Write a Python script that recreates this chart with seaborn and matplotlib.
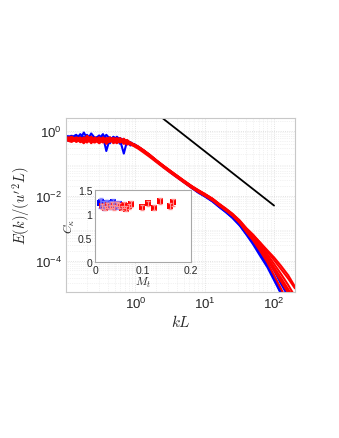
import numpy as np
import pandas as pd
import matplotlib
matplotlib.use("Agg")
import matplotlib.pyplot as plt
import seaborn as sns
from matplotlib.ticker import LogLocator, NullFormatter

# wavenumber grid (kL)
kL = [0.105, 0.12, 0.14, 0.16, 0.18, 0.2, 0.23, 0.26, 0.3, 0.34, 0.38, 0.43, 0.48, 0.54,
      0.6, 0.68, 0.76, 0.85, 0.95, 1.1, 1.3, 1.6, 2.0, 2.5, 3.2, 4, 5, 6.5, 8, 10, 13, 16,
      20, 25, 32, 40, 50, 63, 80, 100, 125, 160, 200]

# log10 of E(k)/(u'^2 L) for each run
blue_runs = [
    [-0.25, -0.22, -0.30, -0.18, -0.26, -0.12, -0.28, -0.20, -0.35, -0.15, -0.62, -0.22, -0.30, -0.18, -0.28, -0.70, -0.30, -0.38, -0.42, -0.52, -0.62, -0.77, -0.93, -1.09, -1.27, -1.42, -1.57, -1.75, -1.88, -2.00, -2.16, -2.31, -2.47, -2.64, -2.88, -3.15, -3.42, -3.75, -4.10, -4.50, -5.0, -5.6, -6],
    [-0.20, -0.15, -0.25, -0.10, -0.20, -0.30, -0.08, -0.22, -0.18, -0.28, -0.12, -0.25, -0.20, -0.33, -0.22, -0.30, -0.40, -0.35, -0.45, -0.50, -0.61, -0.76, -0.94, -1.10, -1.28, -1.43, -1.58, -1.76, -1.90, -2.02, -2.18, -2.34, -2.50, -2.68, -2.92, -3.20, -3.50, -3.85, -4.20, -4.60, -5.0, -5.4, -6],
    [-0.30, -0.28, -0.18, -0.32, -0.22, -0.16, -0.35, -0.25, -0.14, -0.30, -0.24, -0.38, -0.18, -0.26, -0.40, -0.28, -0.34, -0.45, -0.40, -0.49, -0.60, -0.75, -0.92, -1.08, -1.26, -1.41, -1.56, -1.74, -1.87, -1.99, -2.15, -2.30, -2.46, -2.62, -2.85, -3.10, -3.35, -3.65, -3.95, -4.30, -4.70, -5.1, -6],
    [-0.16, -0.20, -0.12, -0.26, -0.05, -0.22, -0.18, -0.30, -0.24, -0.10, -0.28, -0.20, -0.35, -0.24, -0.30, -0.26, -0.38, -0.36, -0.43, -0.51, -0.61, -0.76, -0.93, -1.09, -1.27, -1.42, -1.57, -1.74, -1.88, -2.01, -2.17, -2.33, -2.49, -2.66, -2.90, -3.18, -3.45, -3.80, -4.15, -4.55, -4.95, -5.3, -6],
]
red_runs = [
    [-0.28, -0.24, -0.30, -0.20, -0.33, -0.26, -0.18, -0.30, -0.22, -0.36, -0.25, -0.20, -0.32, -0.27, -0.22, -0.35, -0.33, -0.38, -0.44, -0.50, -0.60, -0.74, -0.91, -1.07, -1.24, -1.39, -1.54, -1.71, -1.83, -1.95, -2.10, -2.25, -2.40, -2.56, -2.78, -3.02, -3.24, -3.50, -3.80, -4.10, -4.40, -4.75, -5.1],
    [-0.26, -0.30, -0.22, -0.35, -0.25, -0.32, -0.28, -0.20, -0.34, -0.26, -0.40, -0.30, -0.24, -0.36, -0.30, -0.26, -0.38, -0.40, -0.45, -0.51, -0.61, -0.75, -0.92, -1.08, -1.25, -1.40, -1.55, -1.72, -1.84, -1.96, -2.11, -2.26, -2.42, -2.59, -2.82, -3.08, -3.32, -3.62, -3.95, -4.30, -4.62, -5.0, -5.4],
    [-0.22, -0.18, -0.26, -0.22, -0.30, -0.15, -0.28, -0.24, -0.30, -0.20, -0.28, -0.34, -0.22, -0.30, -0.36, -0.28, -0.32, -0.36, -0.42, -0.49, -0.59, -0.73, -0.90, -1.06, -1.23, -1.38, -1.53, -1.70, -1.82, -1.94, -2.09, -2.24, -2.39, -2.55, -2.76, -3.00, -3.20, -3.45, -3.72, -3.98, -4.25, -4.55, -4.85],
    [-0.30, -0.34, -0.26, -0.30, -0.38, -0.28, -0.33, -0.36, -0.26, -0.32, -0.30, -0.24, -0.38, -0.32, -0.28, -0.40, -0.36, -0.42, -0.46, -0.52, -0.62, -0.76, -0.93, -1.09, -1.26, -1.41, -1.56, -1.73, -1.85, -1.97, -2.12, -2.27, -2.43, -2.60, -2.84, -3.12, -3.38, -3.70, -4.05, -4.45, -4.85, -5.3, -5.8],
    [-0.27, -0.22, -0.34, -0.28, -0.20, -0.36, -0.24, -0.28, -0.38, -0.30, -0.22, -0.32, -0.28, -0.22, -0.34, -0.30, -0.28, -0.37, -0.41, -0.48, -0.59, -0.74, -0.91, -1.07, -1.24, -1.39, -1.54, -1.71, -1.83, -1.95, -2.10, -2.26, -2.41, -2.57, -2.80, -3.05, -3.28, -3.56, -3.88, -4.20, -4.52, -4.88, -5.2],
    [-0.24, -0.28, -0.20, -0.24, -0.32, -0.22, -0.38, -0.26, -0.20, -0.28, -0.34, -0.26, -0.30, -0.38, -0.26, -0.32, -0.42, -0.39, -0.43, -0.50, -0.60, -0.75, -0.92, -1.08, -1.25, -1.40, -1.55, -1.72, -1.84, -1.96, -2.11, -2.27, -2.42, -2.58, -2.81, -3.06, -3.30, -3.58, -3.92, -4.25, -4.58, -4.92, -5.3],
    [-0.20, -0.26, -0.32, -0.24, -0.28, -0.34, -0.22, -0.32, -0.28, -0.24, -0.36, -0.28, -0.22, -0.30, -0.34, -0.24, -0.36, -0.40, -0.47, -0.55, -0.66, -0.80, -0.96, -1.12, -1.29, -1.44, -1.59, -1.76, -1.88, -2.00, -2.15, -2.30, -2.45, -2.61, -2.83, -3.04, -3.22, -3.44, -3.68, -3.90, -4.15, -4.45, -4.8],
]

# -5/3 reference line
ref_k = [2.5, 100]
ref_E = [2.4, 0.005]

# inset: Kolmogorov constant vs turbulent Mach number
blue_Mt = [0.010, 0.013, 0.016, 0.019, 0.022, 0.025, 0.028, 0.031, 0.034, 0.037, 0.040, 0.043, 0.046, 0.050]
blue_C = [1.22, 1.25, 1.20, 1.18, 1.23, 1.21, 1.17, 1.22, 1.19, 1.24, 1.18, 1.21, 1.16, 1.20]
blue_err = [0.10, 0.08, 0.07, 0.09, 0.06, 0.08, 0.07, 0.06, 0.08, 0.07, 0.06, 0.07, 0.06, 0.08]
red_Mt = [0.015, 0.020, 0.025, 0.030, 0.035, 0.040, 0.045, 0.050, 0.055, 0.060, 0.065, 0.070,
          0.075, 0.098, 0.110, 0.122, 0.134, 0.155, 0.162]
red_C = [1.16, 1.13, 1.18, 1.15, 1.19, 1.14, 1.20, 1.17, 1.12, 1.19, 1.11, 1.16,
         1.20, 1.14, 1.22, 1.13, 1.27, 1.17, 1.24]
red_err = [0.05, 0.04, 0.05, 0.04, 0.06, 0.05, 0.04, 0.05, 0.04, 0.06, 0.05, 0.05,
           0.06, 0.05, 0.06, 0.05, 0.07, 0.06, 0.07]

rows = []
for i, r in enumerate(blue_runs):
    for k, v in zip(kL, r):
        rows.append(("b%d" % i, "blue", k, 10.0 ** v))
for i, r in enumerate(red_runs):
    for k, v in zip(kL, r):
        rows.append(("r%d" % i, "red", k, 10.0 ** v))
df = pd.DataFrame(rows, columns=["run", "case", "kL", "E"])

sns.set_style("white")
plt.rcParams["font.family"] = ["Liberation Sans", "DejaVu Sans"]
plt.rcParams["mathtext.fontset"] = "dejavusans"

edge = "#c8c8c8"
fig = plt.figure(figsize=(3.39, 4.39), dpi=100)
ax = fig.add_axes([0.195, 0.333, 0.675, 0.396])

sns.lineplot(data=df, x="kL", y="E", hue="case", units="run", estimator=None,
             palette={"blue": "#0000ff", "red": "#ff0000"}, lw=1.5, legend=False,
             sort=False, ax=ax)
ax.plot(ref_k, ref_E, color="black", lw=1.3)

ax.set_xscale("log")
ax.set_yscale("log")
ax.set_xlim(0.1, 200)
ax.set_ylim(1.1e-5, 2.5)
ax.set_xticks([1e0, 1e1, 1e2])
ax.set_yticks([1e-4, 1e-2, 1e0])
ax.xaxis.set_minor_locator(LogLocator(base=10, subs=np.arange(2, 10), numticks=20))
ax.yaxis.set_minor_locator(LogLocator(base=10, subs=np.arange(2, 10), numticks=20))
ax.xaxis.set_minor_formatter(NullFormatter())
ax.yaxis.set_minor_formatter(NullFormatter())
ax.grid(True, which="major", color="#d9d9d9", ls=":", lw=0.6)
ax.grid(True, which="minor", color="#e6e6e6", ls=":", lw=0.5)
ax.tick_params(which="both", direction="in", length=2.5, color=edge, labelsize=9.5, pad=3)
ax.tick_params(which="minor", length=1.5)
for s in ax.spines.values():
    s.set_color(edge)
    s.set_linewidth(0.8)
ax.set_xlabel("$kL$", fontsize=11, math_fontfamily="cm", labelpad=1)
ax.set_ylabel("$E(k)/(u'^2L)$", fontsize=10.5, math_fontfamily="cm", labelpad=2)

# inset
ins = fig.add_axes([0.281, 0.401, 0.283, 0.164])
ins.set_facecolor("white")
ins.errorbar(blue_Mt, blue_C, yerr=blue_err, fmt="none", ecolor="#7f7fff", elinewidth=0.8,
             capsize=1.5, alpha=0.8)
sns.scatterplot(x=blue_Mt, y=blue_C, marker="s", color="#0000ff", s=22, linewidth=0, ax=ins)
ins.errorbar(red_Mt, red_C, yerr=red_err, fmt="none", ecolor="#ff9090", elinewidth=0.8,
             capsize=1.5)
sns.scatterplot(x=red_Mt, y=red_C, marker="s", color="#ff0000", s=24, linewidth=0, ax=ins)
ins.set_xlim(0, 0.2)
ins.set_ylim(0, 1.5)
ins.set_xticks([0, 0.1, 0.2])
ins.set_xticklabels(["0", "0.1", "0.2"])
ins.set_yticks([0, 0.5, 1, 1.5])
ins.set_yticklabels(["0", "0.5", "1", "1.5"])
ins.tick_params(direction="in", length=2, color=edge, labelsize=7.5, pad=2)
for s in ins.spines.values():
    s.set_color("#a8a8a8")
    s.set_linewidth(0.8)
ins.set_xlabel("$M_t$", fontsize=8.5, math_fontfamily="cm", labelpad=0)
ins.set_ylabel(r"$C_\kappa$", fontsize=8.5, math_fontfamily="cm", labelpad=1)

fig.savefig("out.png", dpi=100, facecolor="white")
